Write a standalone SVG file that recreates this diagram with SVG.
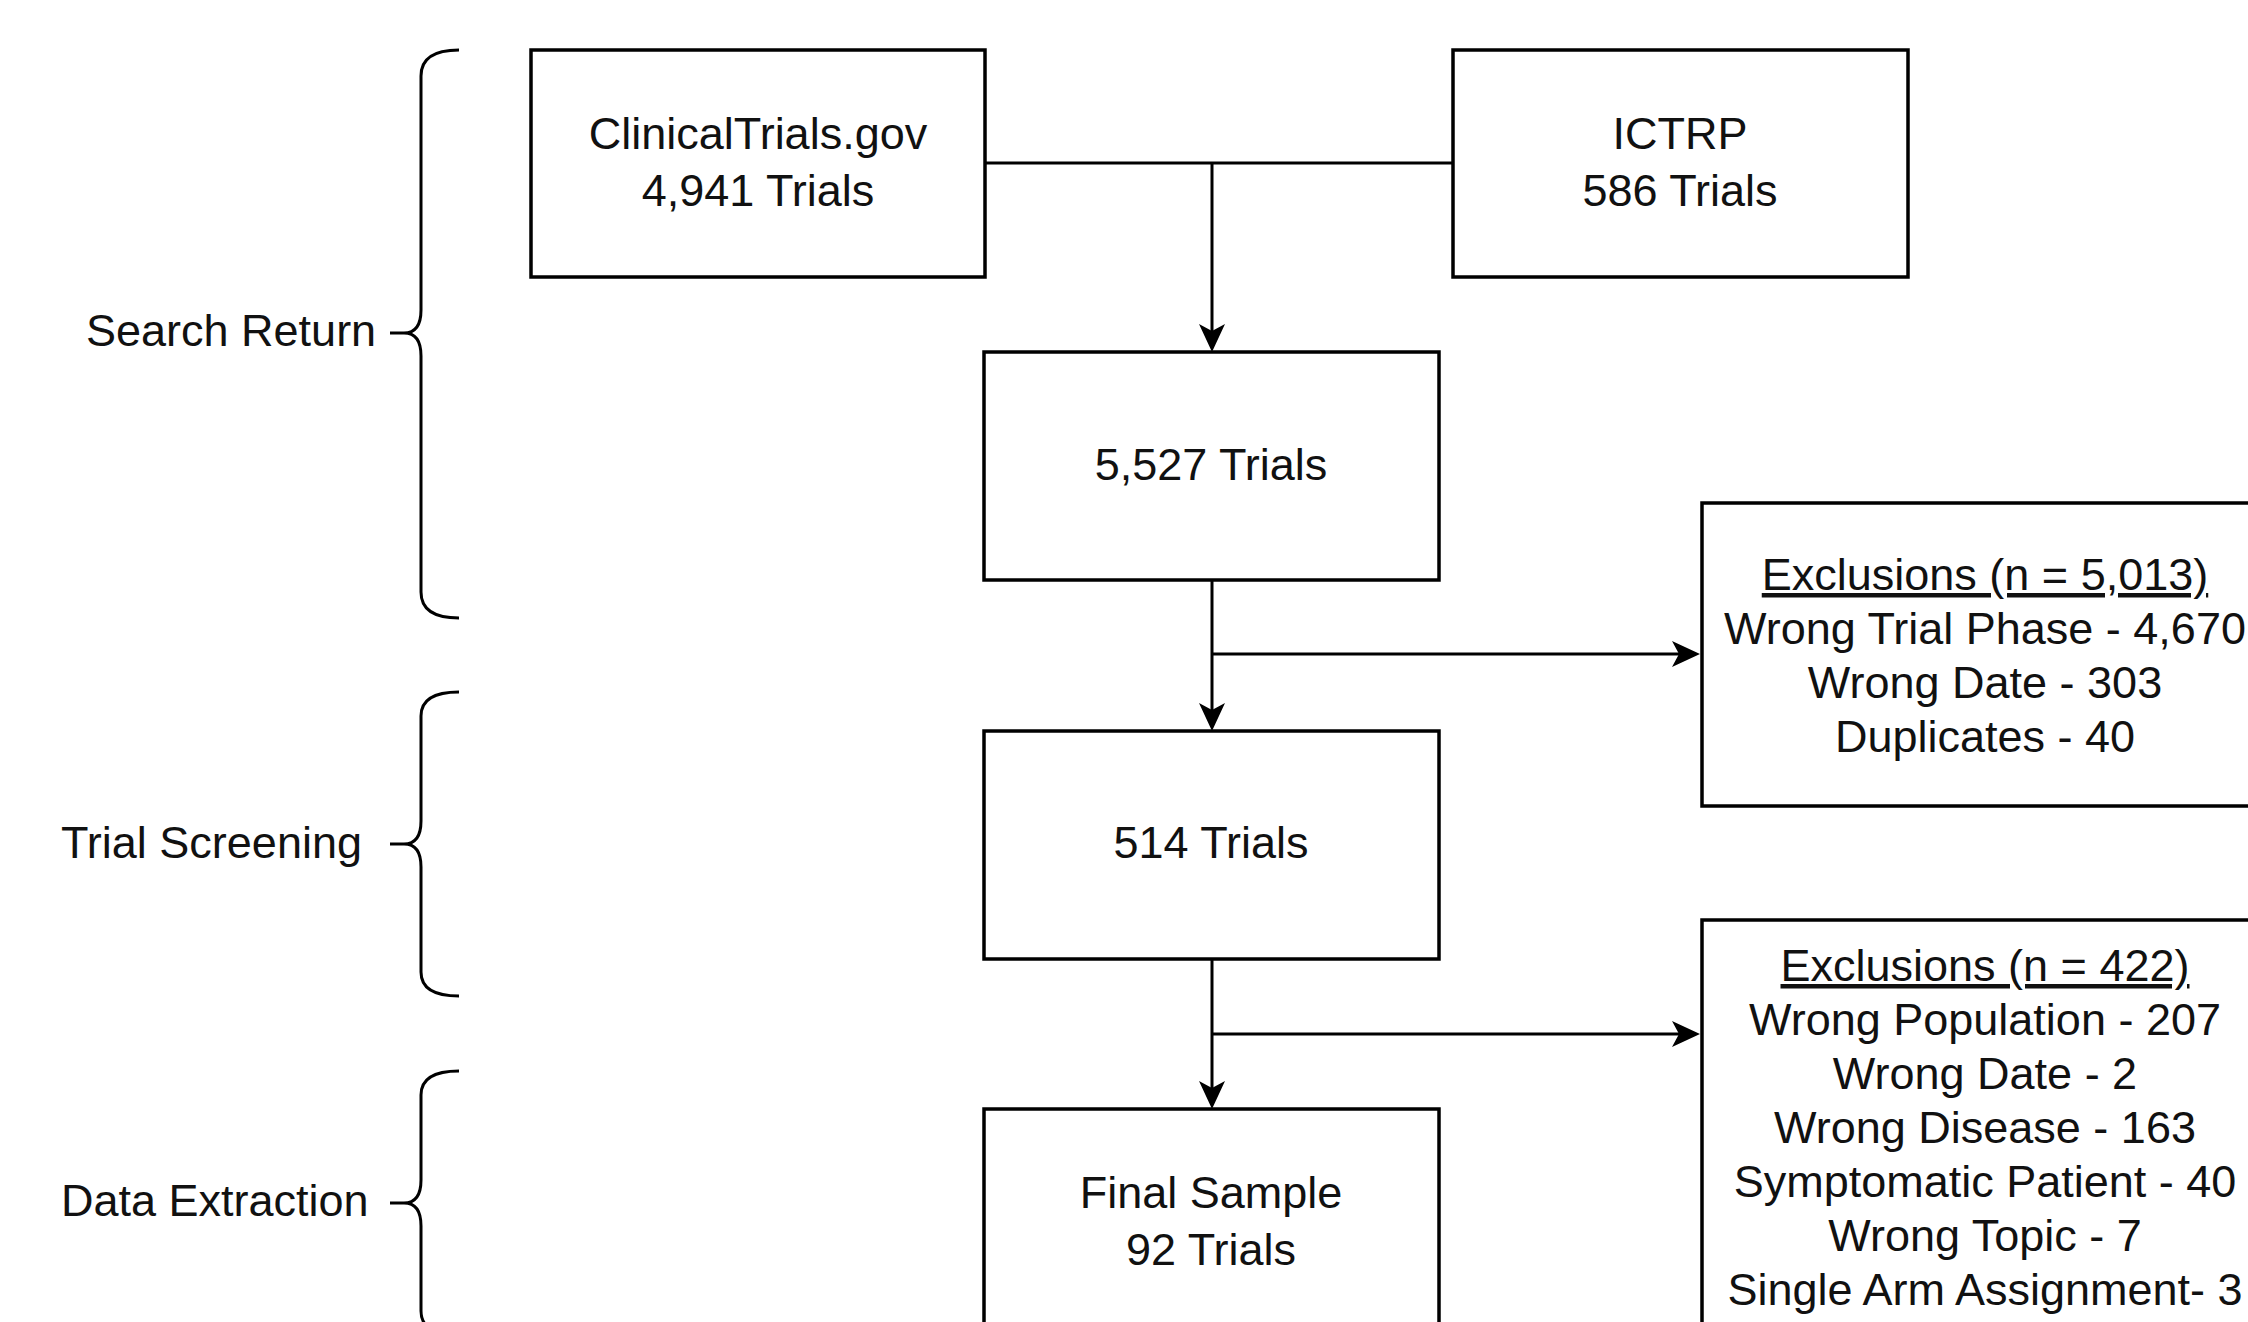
<svg xmlns="http://www.w3.org/2000/svg" width="2248" height="1322" viewBox="0 0 2248 1322">
<style>
  .box { fill: #ffffff; stroke: #000000; stroke-width: 3.5; }
  .t { font-family: "Liberation Sans", Arial, sans-serif; font-size: 45px; fill: #111111; }
  .c { text-anchor: middle; }
  .u { text-decoration: underline; }
  .edge { fill: none; stroke: #000000; stroke-width: 3; }
  .brace { fill: none; stroke: #000000; stroke-width: 3; }
</style>
<defs>
  <marker id="arrow" viewBox="0 0 28 26" refX="20" refY="13" markerWidth="28" markerHeight="26" markerUnits="userSpaceOnUse" orient="auto">
    <path d="M0,0 L28,13 L0,26 L7,13 Z" fill="#000000"/>
  </marker>
</defs>
<rect width="2248" height="1322" fill="#ffffff"/>

<g id="label-search-return">
  <path class="brace" d="M459,50 Q421,50 421,76 L421,310 Q421,333 404,333 L390,333 M404,333 Q421,333 421,356 L421,592 Q421,618 459,618"/>
  <text class="t" x="86" y="346">Search Return</text>
</g>
<g id="label-trial-screening">
  <path class="brace" d="M459,692 Q421,692 421,716 L421,821 Q421,844 404,844 L390,844 M404,844 Q421,844 421,867 L421,972 Q421,996 459,996"/>
  <text class="t" x="61" y="858">Trial Screening</text>
</g>
<g id="label-data-extraction">
  <path class="brace" d="M459,1071 Q421,1071 421,1095 L421,1180 Q421,1203 404,1203 L390,1203 M404,1203 Q421,1203 421,1226 L421,1311 Q421,1335 459,1335"/>
  <text class="t" x="61" y="1216">Data Extraction</text>
</g>

<g id="connectors">
  <path class="edge" d="M985,163 L1453,163"/>
  <path class="edge" d="M1212,163 L1212,344" marker-end="url(#arrow)"/>
  <path class="edge" d="M1212,580 L1212,723" marker-end="url(#arrow)"/>
  <path class="edge" d="M1212,654 L1692,654" marker-end="url(#arrow)"/>
  <path class="edge" d="M1212,959 L1212,1101" marker-end="url(#arrow)"/>
  <path class="edge" d="M1212,1034 L1692,1034" marker-end="url(#arrow)"/>
</g>

<g id="node-clinicaltrials">
  <rect class="box" x="531" y="50" width="454" height="227"/>
  <text class="t c" x="758" y="149">ClinicalTrials.gov</text>
  <text class="t c" x="758" y="206">4,941 Trials</text>
</g>
<g id="node-ictrp">
  <rect class="box" x="1453" y="50" width="455" height="227"/>
  <text class="t c" x="1680" y="149">ICTRP</text>
  <text class="t c" x="1680" y="206">586 Trials</text>
</g>
<g id="node-5527">
  <rect class="box" x="984" y="352" width="455" height="228"/>
  <text class="t c" x="1211" y="480">5,527 Trials</text>
</g>
<g id="node-514">
  <rect class="box" x="984" y="731" width="455" height="228"/>
  <text class="t c" x="1211" y="858">514 Trials</text>
</g>
<g id="node-final">
  <rect class="box" x="984" y="1109" width="455" height="228"/>
  <text class="t c" x="1211" y="1208">Final Sample</text>
  <text class="t c" x="1211" y="1265">92 Trials</text>
</g>
<g id="node-exclusions-1">
  <rect class="box" x="1702" y="503" width="566" height="303"/>
  <text class="t c u" x="1985" y="590">Exclusions (n = 5,013)</text>
  <text class="t c" x="1985" y="644">Wrong Trial Phase - 4,670</text>
  <text class="t c" x="1985" y="698">Wrong Date - 303</text>
  <text class="t c" x="1985" y="752">Duplicates - 40</text>
</g>
<g id="node-exclusions-2">
  <rect class="box" x="1702" y="920" width="566" height="420"/>
  <text class="t c u" x="1985" y="981">Exclusions (n = 422)</text>
  <text class="t c" x="1985" y="1035">Wrong Population - 207</text>
  <text class="t c" x="1985" y="1089">Wrong Date - 2</text>
  <text class="t c" x="1985" y="1143">Wrong Disease - 163</text>
  <text class="t c" x="1985" y="1197">Symptomatic Patient - 40</text>
  <text class="t c" x="1985" y="1251">Wrong Topic - 7</text>
  <text class="t c" x="1985" y="1305">Single Arm Assignment- 3</text>
</g>
</svg>
